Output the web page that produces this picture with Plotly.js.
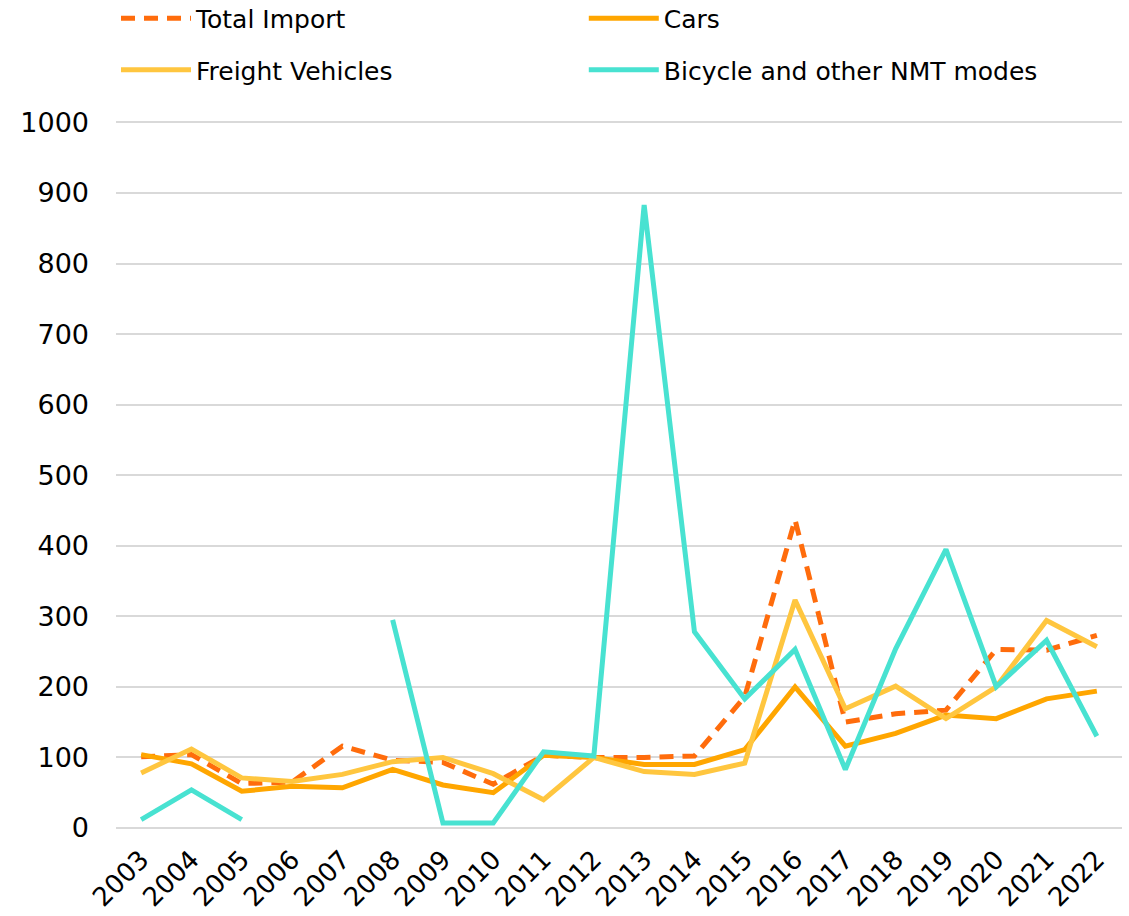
<!DOCTYPE html>
<html>
<head>
<meta charset="utf-8">
<script src="https://cdn.plot.ly/plotly-3.0.1.min.js"></script>
<style>html,body{margin:0;padding:0;background:#fff;}#chart{width:1129px;height:916px;}</style>
</head>
<body>
<div id="chart"></div>
<script>
const years = ["2003","2004","2005","2006","2007","2008","2009","2010","2011","2012","2013","2014","2015","2016","2017","2018","2019","2020","2021","2022"];
const totalImport = [101,104,63,65,116,96,93,62,103,100,100,102,186,437,150,162,167,253,252,273];
const cars = [104,91,52,59,57,83,61,50,103,100,90,90,111,200,116,134,160,155,183,194];
const freight = [78,112,71,66,76,94,100,77,40,100,80,76,92,323,169,201,155,200,294,257];
const bicycle = [12,54,12,null,null,295,7,7,108,102,883,278,183,253,83,254,395,200,266,130];
const yTicks = [0,100,200,300,400,500,600,700,800,900,1000];

const fontFam = "'DejaVu Sans', sans-serif";
const traces = [
  {x: years, y: totalImport, name: "Total Import", type: "scatter", mode: "lines", legend: "legend",
   line: {color: "#FF6C0C", width: 5, dash: "14px,9px"}},
  {x: years, y: cars, name: "Cars", type: "scatter", mode: "lines", legend: "legend",
   line: {color: "#FFA600", width: 5}},
  {x: years, y: freight, name: "Freight Vehicles", type: "scatter", mode: "lines", legend: "legend2",
   line: {color: "#FFC63F", width: 5}},
  {x: years, y: bicycle, name: "Bicycle and other NMT modes", type: "scatter", mode: "lines", legend: "legend2",
   connectgaps: false, line: {color: "#48E2D1", width: 5}}
];

const legendBase = {
  orientation: "h", x: 0, xanchor: "left", yanchor: "middle",
  entrywidth: 0.465, entrywidthmode: "fraction", itemwidth: 70,
  font: {family: fontFam, size: 25, color: "#000"},
  bgcolor: "rgba(0,0,0,0)", traceorder: "normal"
};

const layout = {
  width: 1129, height: 916,
  margin: {l: 116, r: 7, t: 121, b: 88, autoexpand: false},
  paper_bgcolor: "#fff", plot_bgcolor: "#fff",
  font: {family: fontFam, size: 25, color: "#000"},
  showlegend: true,
  legend: Object.assign({}, legendBase, {y: 1.145}),
  legend2: Object.assign({}, legendBase, {y: 1.072}),
  xaxis: {
    type: "category", range: [-0.5, 19.5], tickangle: -45,
    showgrid: false, showline: false, zeroline: false, ticks: "",
    ticklabelstandoff: 10,
    tickfont: {family: fontFam, size: 26, color: "#000"}, fixedrange: true
  },
  yaxis: {
    range: [0, 1002], tickvals: yTicks, ticktext: yTicks.map(String),
    showgrid: true, gridcolor: "#d9d9d9", gridwidth: 2,
    zeroline: true, zerolinecolor: "#d9d9d9", zerolinewidth: 2,
    showline: false, ticks: "", ticklabelstandoff: 26,
    tickfont: {family: fontFam, size: 27, color: "#000"}, fixedrange: true
  }
};
Plotly.newPlot("chart", traces, layout, {displayModeBar: false, staticPlot: true});
</script>
</body>
</html>
